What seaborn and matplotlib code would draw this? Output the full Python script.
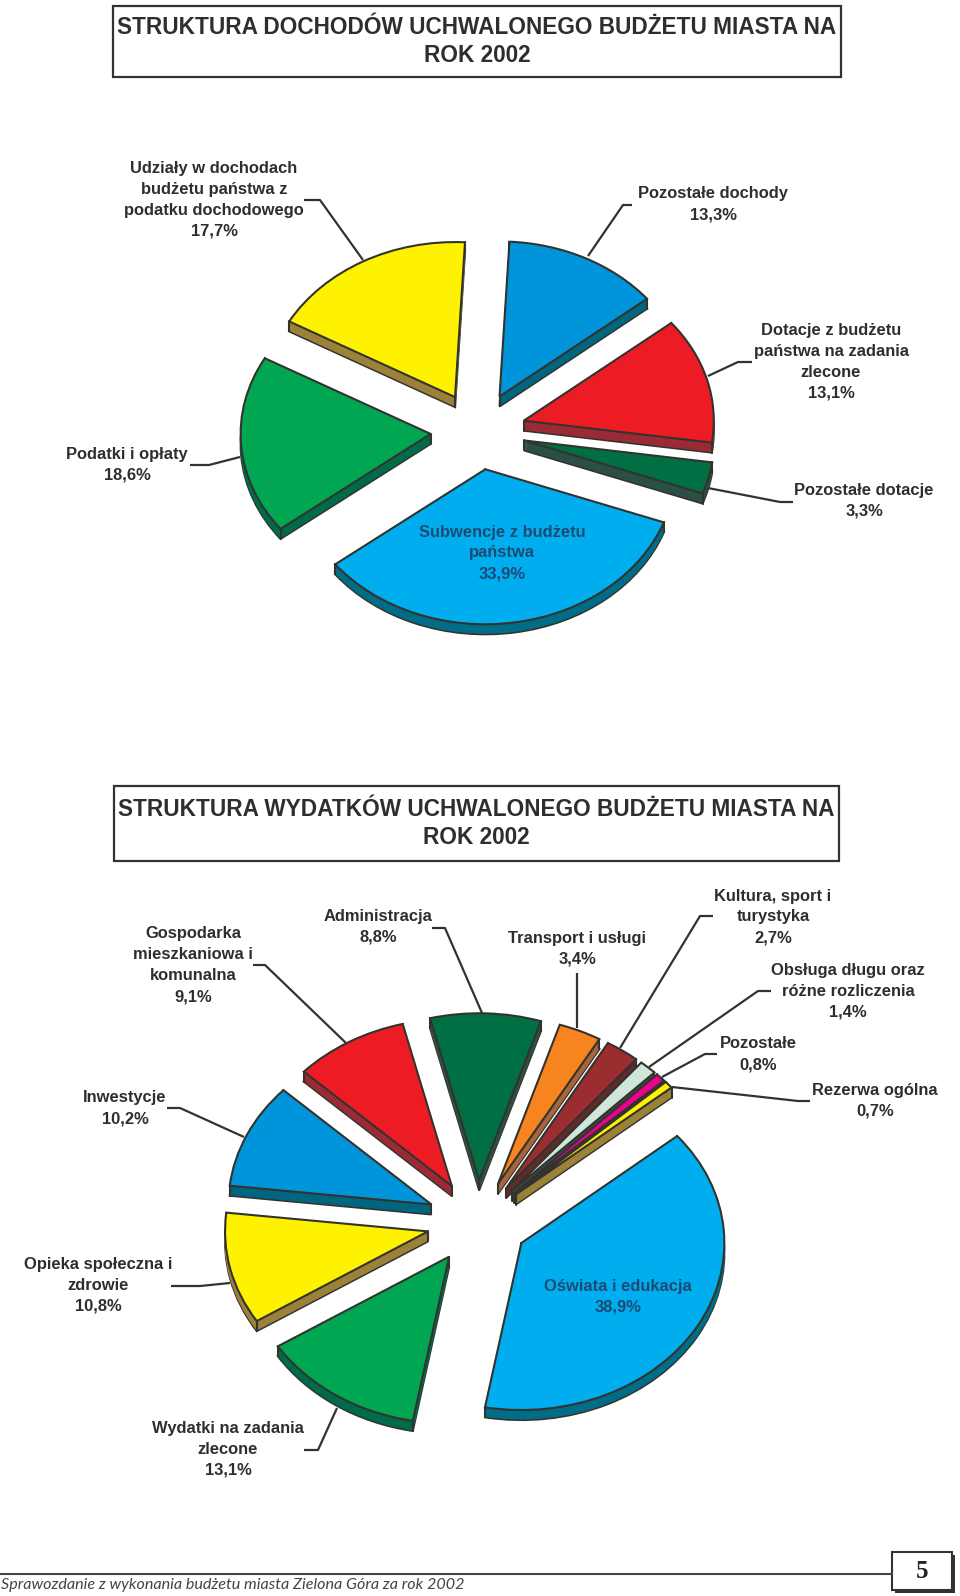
import matplotlib
matplotlib.use('Agg')
import matplotlib.pyplot as plt
import numpy as np
import seaborn as sns
from matplotlib.patches import Rectangle

OUTPUT_FILEPATH = 'out.png'
WIDTH, HEIGHT = 960, 1596

# dochody
income_names = ['Pozostałe dochody', 'Dotacje z budżetu\npaństwa na zadania\nzlecone', 'Pozostałe dotacje',
                'Subwencje z budżetu\npaństwa', 'Podatki i opłaty',
                'Udziały w dochodach\nbudżetu państwa z\npodatku dochodowego']
income_values = [13.3, 13.1, 3.3, 33.9, 18.6, 17.7]
income_colors = ['#0095da', '#ed1c24', '#006f44', '#00aeef', '#00a651', '#fff200']
income_sides = ['#00667f', '#9c2a36', '#2a4f44', '#006d88', '#006b4b', '#9c8238']

# wydatki
expense_names = ['Administracja', 'Transport i usługi', 'Kultura, sport i\nturystyka',
                 'Obsługa długu oraz\nróżne rozliczenia', 'Pozostałe', 'Rezerwa ogólna',
                 'Oświata i edukacja', 'Wydatki na zadania\nzlecone', 'Opieka społeczna i\nzdrowie',
                 'Inwestycje', 'Gospodarka\nmieszkaniowa i\nkomunalna']
expense_values = [8.8, 3.4, 2.7, 1.4, 0.8, 0.7, 38.9, 13.1, 10.8, 10.2, 9.1]
expense_colors = ['#006f44', '#f7841e', '#9b2d30', '#cfe6d8', '#ec008c', '#fff200',
                  '#00aeef', '#00a651', '#fff200', '#0095da', '#ed1c24']
expense_sides = ['#2f4f45', '#a8653c', '#632a2e', '#45484a', '#45383f', '#9c8238',
                 '#006d88', '#006b4b', '#9c8238', '#00667f', '#9c2a36']

income_title = 'STRUKTURA DOCHODÓW UCHWALONEGO BUDŻETU MIASTA NA\nROK 2002'
expense_title = 'STRUKTURA WYDATKÓW UCHWALONEGO BUDŻETU MIASTA NA\nROK 2002'
footer_text = 'Sprawozdanie z wykonania budżetu miasta Zielona Góra za rok 2002'
page_number = '5'

# polozenie opisow w pikselach strony
income_label_xy = [(713, 204), (831, 362), (864, 501), (502, 553), (127, 465), (214, 200)]
expense_label_xy = [(378, 927), (577, 949), (773, 917), (848, 991), (758, 1054), (875, 1101),
                    (618, 1297), (228, 1449), (98, 1285), (125, 1108), (193, 965)]
income_leaders = [[(632, 205), (623, 205), (588, 256)],
                  [(752, 362), (738, 362), (708, 376)],
                  [(793, 502), (780, 502), (708, 488)],
                  None,
                  [(190, 465), (209, 465), (240, 457)],
                  [(304, 200), (320, 200), (363, 260)]]
expense_leaders = [[(432, 928), (445, 928), (482, 1013)],
                   [(577, 973), (577, 1028)],
                   [(713, 916), (700, 916), (620, 1048)],
                   [(771, 991), (758, 991), (649, 1067)],
                   [(717, 1054), (705, 1054), (662, 1077)],
                   [(810, 1101), (798, 1101), (672, 1087)],
                   None,
                   [(304, 1450), (318, 1450), (337, 1408)],
                   [(171, 1286), (200, 1286), (230, 1283)],
                   [(167, 1108), (180, 1108), (244, 1137)],
                   [(253, 965), (265, 965), (346, 1043)]]

EDGE = '#33332e'
TEXT = '#2e2e2e'
FONT = 'Liberation Sans'

sns.set_theme(style='white')
plt.rcParams['font.family'] = [FONT, 'DejaVu Sans']


def draw_pie(fig, values, colors, sides, start, center, rx, ry, depth):
    # os w pikselach: promien pie = rx poziomo, ry pionowo (spłaszczony pie)
    cx, cy = center
    ax = fig.add_axes([(cx - 1.5 * rx) / WIDTH, 1 - (cy + 1.5 * ry) / HEIGHT,
                       3 * rx / WIDTH, 3 * ry / HEIGHT])
    explode = [0.25] * len(values)
    dz = depth / ry
    n_layers = int(depth)
    # warstwy boczne, od dolu do gory
    for k in range(n_layers, 0, -1):
        wedges, _ = ax.pie(values, colors=sides, explode=explode, startangle=start, counterclock=False,
                           center=(0, -k * dz / n_layers), wedgeprops={'linewidth': 0.6, 'zorder': 1})
        for w in wedges:
            if k == n_layers:
                w.set_edgecolor(EDGE)
                w.set_linewidth(1.5)
            else:
                w.set_edgecolor(w.get_facecolor())
    wedges, _ = ax.pie(values, colors=colors, explode=explode, startangle=start, counterclock=False,
                       wedgeprops={'linewidth': 1.5, 'edgecolor': EDGE, 'zorder': 3})
    # pionowe krawedzie na rogach
    for w in wedges:
        x0, y0 = w.center
        for px, py in [(x0, y0),
                       (x0 + w.r * np.cos(np.radians(w.theta1)), y0 + w.r * np.sin(np.radians(w.theta1))),
                       (x0 + w.r * np.cos(np.radians(w.theta2)), y0 + w.r * np.sin(np.radians(w.theta2)))]:
            ax.plot([px, px], [py, py - dz], color=EDGE, lw=1.5, zorder=2)
    ax.set_aspect('auto')
    ax.set_xlim(-1.5, 1.5)
    ax.set_ylim(-1.5, 1.5)
    ax.axis('off')
    return ax


def percent(value):
    return f'{value:.1f}'.replace('.', ',') + '%'


def draw_labels(page, names, values, label_xy, leaders, inside=()):
    for i, name in enumerate(names):
        color = '#1d4a73' if i in inside else TEXT
        page.text(label_xy[i][0], label_xy[i][1], name + '\n' + percent(values[i]), ha='center', va='center',
                  ma='center', fontsize=11.9, fontweight='bold', color=color, linespacing=1.5)
        if leaders[i] is not None:
            xs, ys = zip(*leaders[i])
            page.plot(xs, ys, color=EDGE, lw=1.6, solid_capstyle='butt', solid_joinstyle='round')


def draw_title(page, title, x0, y0, x1, y1):
    page.add_patch(Rectangle((x0, y0), x1 - x0, y1 - y0, fill=False, edgecolor=EDGE, linewidth=1.6))
    page.text((x0 + x1) / 2, (y0 + y1) / 2, title, ha='center', va='center', ma='center',
              fontsize=16.3, fontweight='bold', color=TEXT, linespacing=1.27)


def main():
    fig = plt.figure(figsize=(WIDTH / 100, HEIGHT / 100), dpi=100)

    draw_pie(fig, income_values, income_colors, income_sides, 87, (478, 431), 190, 155, 10)
    draw_pie(fig, expense_values, expense_colors, expense_sides, 104, (477.5, 1222), 203, 167, 10)

    # warstwa strony dla opisow
    page = fig.add_axes([0, 0, 1, 1], facecolor='none')
    page.set_xlim(0, WIDTH)
    page.set_ylim(HEIGHT, 0)
    page.axis('off')

    draw_title(page, income_title, 113, 6, 841, 77)
    draw_title(page, expense_title, 114, 786, 839, 861)
    draw_labels(page, income_names, income_values, income_label_xy, income_leaders, inside=(3,))
    draw_labels(page, expense_names, expense_values, expense_label_xy, expense_leaders, inside=(6,))

    # stopka
    page.plot([0, 892], [1574, 1574], color='#444444', lw=1.5)
    page.text(1, 1585, footer_text, ha='left', va='center', fontsize=11.6, style='italic',
              family=['Lato', 'DejaVu Sans'], color='#444444')
    page.add_patch(Rectangle((895, 1555), 60, 38, facecolor='#333333', edgecolor='none'))
    page.add_patch(Rectangle((892, 1552), 60, 38, facecolor='white', edgecolor='#333333', linewidth=1.5))
    page.text(922, 1572, page_number, ha='center', va='center', fontsize=18, fontweight='bold',
              family=['Liberation Serif', 'DejaVu Serif'], color='#222222')

    plt.savefig(OUTPUT_FILEPATH, dpi=100)


if __name__ == '__main__':
    main()
